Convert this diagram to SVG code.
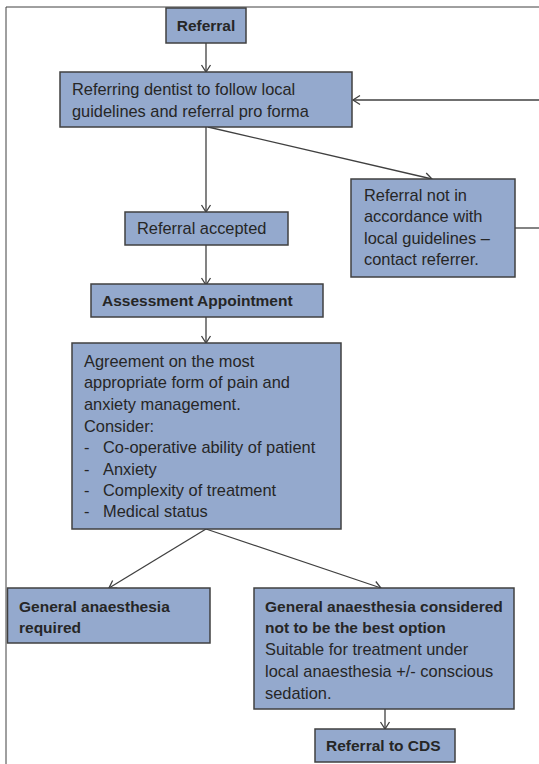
<svg xmlns="http://www.w3.org/2000/svg" width="539" height="764" viewBox="0 0 539 764">
<defs>
<style>
.box{fill:#94a9cd;stroke:#404040;stroke-width:1.5}
.t{font-family:"Liberation Sans",Arial,sans-serif;font-size:16.4px;fill:#262626}
.b{font-weight:bold;font-size:15.5px}
.c{stroke:#404040;stroke-width:1.3;fill:none}
.frame{stroke:#404040;stroke-width:1;fill:none}
</style>
<marker id="arr" markerUnits="userSpaceOnUse" markerWidth="12" markerHeight="12" viewBox="0 0 12 12" refX="10" refY="6" orient="auto">
<path d="M3,1.5 L10,6 L3,10.5" fill="none" stroke="#404040" stroke-width="1.3"/>
</marker>
</defs>
<rect width="539" height="764" fill="#ffffff"/>
<path class="frame" d="M6,764 L6,7 L539,7"/>
<g id="connectors">
<line class="c" x1="206" y1="43" x2="206" y2="72" marker-end="url(#arr)"/>
<line class="c" x1="539" y1="100" x2="353" y2="100" marker-end="url(#arr)"/>
<line class="c" x1="515" y1="228" x2="539" y2="228"/>
<line class="c" x1="206" y1="127" x2="206" y2="212" marker-end="url(#arr)"/>
<line class="c" x1="208" y1="127" x2="432" y2="179" marker-end="url(#arr)"/>
<line class="c" x1="206" y1="245" x2="206" y2="285" marker-end="url(#arr)"/>
<line class="c" x1="206" y1="317" x2="206" y2="343" marker-end="url(#arr)"/>
<line class="c" x1="206" y1="529" x2="109" y2="588" marker-end="url(#arr)"/>
<line class="c" x1="206" y1="529" x2="381" y2="588" marker-end="url(#arr)"/>
<line class="c" x1="385" y1="709" x2="385" y2="729" marker-end="url(#arr)"/>
</g>
<g id="referral">
<rect class="box" x="166" y="8" width="80" height="35"/>
<text class="t b" x="206" y="31" text-anchor="middle">Referral</text>
</g>
<g id="referring-dentist">
<rect class="box" x="60" y="72" width="292" height="55"/>
<text class="t" x="72" y="95">Referring dentist to follow local</text>
<text class="t" x="72" y="117">guidelines and referral pro forma</text>
</g>
<g id="referral-not">
<rect class="box" x="351" y="179" width="164" height="98"/>
<text class="t" x="364" y="201">Referral not in</text>
<text class="t" x="364" y="222">accordance with</text>
<text class="t" x="364" y="244">local guidelines –</text>
<text class="t" x="364" y="265">contact referrer.</text>
</g>
<g id="referral-accepted">
<rect class="box" x="125" y="212" width="163" height="33"/>
<text class="t" x="137" y="234">Referral accepted</text>
</g>
<g id="assessment">
<rect class="box" x="91" y="284" width="232" height="33"/>
<text class="t b" x="102" y="306">Assessment Appointment</text>
</g>
<g id="agreement">
<rect class="box" x="72" y="343" width="269" height="186"/>
<text class="t" x="84" y="367">Agreement on the most</text>
<text class="t" x="84" y="388">appropriate form of pain and</text>
<text class="t" x="84" y="410">anxiety management.</text>
<text class="t" x="84" y="432">Consider:</text>
<text class="t" x="84" y="453">-</text><text class="t" x="103" y="453">Co-operative ability of patient</text>
<text class="t" x="84" y="475">-</text><text class="t" x="103" y="475">Anxiety</text>
<text class="t" x="84" y="496">-</text><text class="t" x="103" y="496">Complexity of treatment</text>
<text class="t" x="84" y="517">-</text><text class="t" x="103" y="517">Medical status</text>
</g>
<g id="ga-required">
<rect class="box" x="7.5" y="588" width="202.5" height="55"/>
<text class="t b" x="19" y="612">General anaesthesia</text>
<text class="t b" x="19" y="633">required</text>
</g>
<g id="ga-not-best">
<rect class="box" x="254" y="588" width="260" height="121"/>
<text class="t b" x="265" y="612">General anaesthesia considered</text>
<text class="t b" x="265" y="633">not to be the best option</text>
<text class="t" x="265" y="655">Suitable for treatment under</text>
<text class="t" x="265" y="677">local anaesthesia +/- conscious</text>
<text class="t" x="265" y="699">sedation.</text>
</g>
<g id="referral-cds">
<rect class="box" x="315" y="729" width="140" height="33"/>
<text class="t b" x="326" y="751">Referral to CDS</text>
</g>
</svg>
